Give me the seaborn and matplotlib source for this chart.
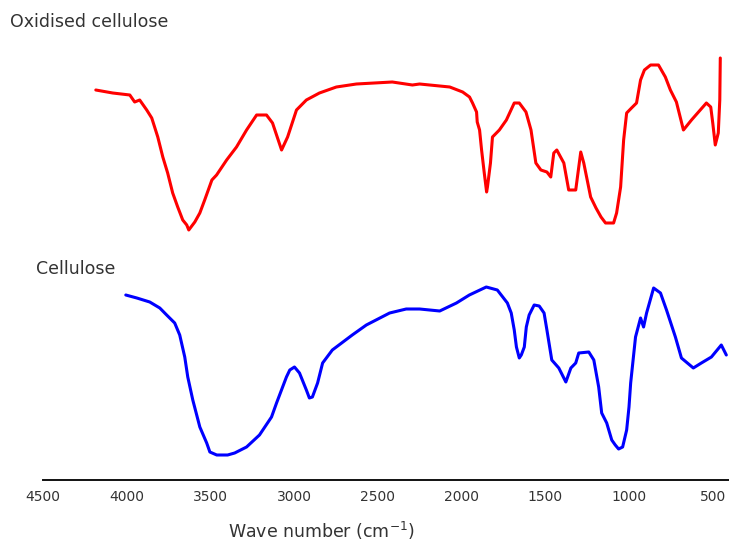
import matplotlib
matplotlib.use("Agg")
import matplotlib.pyplot as plt
from matplotlib.ticker import MultipleLocator, FixedLocator
import pandas as pd
import seaborn as sns

# FTIR spectra (wave number in cm^-1, transmittance in arbitrary offset units)
oxidised_wn = [4183, 4082, 3980, 3951, 3921, 3879, 3849, 3813, 3783, 3754, 3724,
               3694, 3664, 3640, 3628, 3592, 3562, 3533, 3490, 3462, 3402, 3343,
               3283, 3223, 3164, 3128, 3074, 3038, 2985, 2926, 2848, 2747, 2627,
               2413, 2293, 2250, 2070, 1993, 1952, 1934, 1910, 1906, 1892, 1880,
               1864, 1850, 1845, 1827, 1815, 1774, 1732, 1685, 1655, 1615, 1585,
               1556, 1526, 1490, 1467, 1449, 1431, 1389, 1360, 1318, 1288, 1270,
               1229, 1197, 1167, 1140, 1092, 1074, 1050, 1032, 1014, 985, 955,
               931, 908, 871, 824, 783, 753, 717, 675, 627, 538, 512, 500, 485,
               467, 458, 455]
oxidised_t = [97.5, 96.75, 96.25, 94.5, 95.0, 92.5, 90.5, 85.75, 80.75, 76.75, 71.75,
              68.25, 65.0, 63.75, 62.5, 64.5, 66.75, 70.0, 75.0, 76.25, 80.0, 83.25,
              87.5, 91.25, 91.25, 89.25, 82.5, 85.75, 92.5, 95.0, 96.75, 98.25, 99.0,
              99.5, 98.75, 99.0, 98.25, 97.0, 95.75, 94.25, 92.0, 89.5, 87.5, 82.5,
              76.75, 72.0, 73.25, 79.25, 85.75, 87.5, 90.0, 94.25, 94.25, 92.0, 87.5,
              79.25, 77.5, 77.0, 75.75, 81.75, 82.5, 79.25, 72.5, 72.5, 82.0, 79.25,
              70.75, 68.0, 65.75, 64.25, 64.25, 66.75, 73.25, 85.0, 91.75, 93.0, 94.25,
              100.0, 102.5, 103.75, 103.75, 100.75, 97.5, 94.5, 87.5, 90.0, 94.25, 93.25, 89.25, 83.75,
              86.75, 95.0, 105.5]

cellulose_wn = [4004, 3938, 3861, 3801, 3760, 3712, 3682, 3652, 3634, 3604, 3562,
                3521, 3502, 3461, 3396, 3354, 3283, 3206, 3134, 3104, 3045, 3025,
                2997, 2967, 2926, 2908, 2890, 2859, 2829, 2771, 2652, 2568, 2429,
                2330, 2250, 2130, 2030, 1953, 1852, 1786, 1726, 1703, 1685, 1672,
                1655, 1643, 1625, 1613, 1596, 1566, 1536, 1507, 1490, 1461, 1419,
                1377, 1347, 1318, 1300, 1240, 1210, 1181, 1163, 1133, 1103, 1082,
                1062, 1038, 1014, 1000, 990, 961, 931, 913, 895, 853, 812, 776,
                723, 687, 616, 568, 508, 449, 419]
cellulose_t = [46.25, 45.5, 44.5, 43.0, 41.25, 39.25, 36.25, 30.75, 25.75, 20.0, 13.25,
               9.25, 7.0, 6.25, 6.25, 6.75, 8.25, 11.25, 15.75, 19.25, 25.75, 27.5,
               28.25, 26.75, 22.5, 20.5, 20.75, 24.25, 29.25, 32.5, 36.25, 38.75, 41.75,
               42.75, 42.75, 42.25, 44.25, 46.25, 48.25, 47.5, 44.25, 41.75, 37.5, 33.25,
               30.5, 31.25, 33.25, 38.25, 41.25, 43.75, 43.5, 41.75, 37.5, 30.0, 28.0,
               24.5, 28.0, 29.25, 31.75, 32.0, 30.0, 23.25, 16.75, 14.25, 10.0, 8.75,
               7.75, 8.25, 12.5, 18.25, 24.25, 35.75, 40.5, 38.25, 41.75, 48.0, 46.75, 42.5,
               35.75, 30.5, 28.0, 29.25, 30.75, 33.75, 31.25]

sample_names = ["Oxidised cellulose", "Cellulose"]
line_colors = ["#ff0000", "#0000ff"]
tick_values = [4500, 4000, 3500, 3000, 2500, 2000, 1500, 1000, 500]

df = pd.concat([
    pd.DataFrame({"wn": oxidised_wn, "t": oxidised_t, "sample": sample_names[0]}),
    pd.DataFrame({"wn": cellulose_wn, "t": cellulose_t, "sample": sample_names[1]}),
], ignore_index=True)

sns.set_style("white")
plt.rcParams["font.family"] = ["DejaVu Sans"]

fig = plt.figure(figsize=(7.29, 5.44), dpi=100)
ax = fig.add_axes([42.7 / 729, 64 / 544, 1 - 42.7 / 729, 1 - 64 / 544])

sns.lineplot(data=df, x="wn", y="t", hue="sample", palette=line_colors,
             hue_order=sample_names, estimator=None, sort=True,
             linewidth=2.2, legend=False, ax=ax)

ax.set_xlim(4500, 403)
ax.set_ylim(0, 120)

for side in ("left", "top", "right"):
    ax.spines[side].set_visible(False)
ax.spines["bottom"].set_color("#111111")
ax.spines["bottom"].set_linewidth(1.4)

ax.xaxis.set_major_locator(FixedLocator(tick_values))
ax.xaxis.set_minor_locator(MultipleLocator(250))
ax.set_xticklabels([str(v) for v in tick_values])
ax.tick_params(axis="x", which="major", direction="out", length=4.5, width=1.3,
               color="#111111", labelsize=10, labelcolor="#333333", pad=3)
ax.tick_params(axis="x", which="minor", direction="out", length=2.5, width=1.3,
               color="#111111")
ax.set_yticks([])
ax.set_xlabel("")
ax.set_ylabel("")

fig.text(10 / 729, 1 - 27 / 544, "Oxidised cellulose", fontsize=12.5,
         color="#333333", ha="left", va="baseline")
fig.text(36 / 729, 1 - 274 / 544, "Cellulose", fontsize=12.5,
         color="#333333", ha="left", va="baseline")
fig.text(321 / 729, 1 - 538 / 544, "Wave number (cm$^{-1}$)", fontsize=12.5,
         color="#333333", ha="center", va="baseline")

fig.savefig("out.png", dpi=100, facecolor="white")
